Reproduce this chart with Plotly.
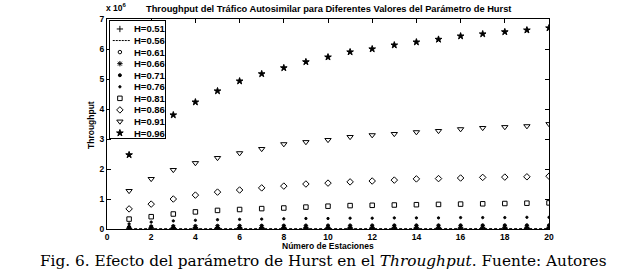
import plotly.graph_objects as go

# ---------------- data (throughput in units of 10^6) ----------------
estaciones = list(range(1, 21))
hurst_labels = ["H=0.51", "H=0.56", "H=0.61", "H=0.66", "H=0.71",
                "H=0.76", "H=0.81", "H=0.86", "H=0.91", "H=0.96"]

h051 = [0.005, 0.006, 0.006, 0.007, 0.007, 0.007, 0.007, 0.008, 0.008, 0.008,
        0.008, 0.008, 0.008, 0.008, 0.008, 0.008, 0.008, 0.008, 0.008, 0.008]
h056 = [0.010, 0.011, 0.011, 0.012, 0.012, 0.012, 0.012, 0.012, 0.012, 0.012,
        0.012, 0.012, 0.012, 0.012, 0.012, 0.012, 0.012, 0.012, 0.012, 0.012]
h061 = [0.018, 0.021, 0.023, 0.024, 0.025, 0.025, 0.026, 0.026, 0.026, 0.027,
        0.027, 0.027, 0.027, 0.027, 0.028, 0.028, 0.028, 0.028, 0.028, 0.028]
h066 = [0.035, 0.042, 0.046, 0.048, 0.050, 0.051, 0.052, 0.053, 0.054, 0.054,
        0.055, 0.055, 0.056, 0.056, 0.056, 0.057, 0.057, 0.057, 0.057, 0.058]
h071 = [0.075, 0.090, 0.098, 0.104, 0.108, 0.111, 0.113, 0.115, 0.117, 0.118,
        0.119, 0.120, 0.121, 0.122, 0.123, 0.123, 0.124, 0.124, 0.125, 0.125]
h076 = [0.17, 0.23, 0.27, 0.29, 0.31, 0.32, 0.33, 0.34, 0.35, 0.35,
        0.36, 0.36, 0.37, 0.37, 0.37, 0.38, 0.38, 0.38, 0.39, 0.39]
h081 = [0.33, 0.41, 0.50, 0.57, 0.62, 0.65, 0.68, 0.70, 0.73, 0.76,
        0.78, 0.79, 0.80, 0.81, 0.82, 0.83, 0.84, 0.85, 0.86, 0.87]
h086 = [0.67, 0.83, 1.00, 1.13, 1.23, 1.30, 1.37, 1.43, 1.50, 1.53,
        1.57, 1.60, 1.63, 1.67, 1.68, 1.70, 1.72, 1.73, 1.74, 1.76]
h091 = [1.27, 1.67, 1.97, 2.20, 2.37, 2.53, 2.67, 2.83, 2.90, 2.97,
        3.07, 3.13, 3.17, 3.23, 3.27, 3.33, 3.37, 3.40, 3.43, 3.50]
h096 = [2.47, 3.20, 3.80, 4.23, 4.60, 4.93, 5.17, 5.37, 5.57, 5.73,
        5.90, 6.00, 6.13, 6.23, 6.32, 6.43, 6.50, 6.57, 6.63, 6.70]

x_ticks = list(range(0, 21, 2))
y_ticks = list(range(0, 8))

series = [h051, h056, h061, h066, h071, h076, h081, h086, h091, h096]
# (symbol, size, mode)
styles = [
    ("cross-thin-open", 4.5, "markers"),
    (None, 0, "lines"),
    ("circle-open", 3.5, "markers"),
    ("asterisk-open", 4.5, "markers"),
    ("circle", 3, "markers"),
    ("circle", 2.3, "markers"),
    ("square-open", 4.5, "markers"),
    ("diamond-open", 5, "markers"),
    ("triangle-down-open", 5.5, "markers"),
    ("star", 5, "markers"),
]

fig = go.Figure()
for vals, name, (sym, size, mode) in zip(series, hurst_labels, styles):
    if mode == "lines":
        fig.add_trace(go.Scatter(x=estaciones, y=vals, mode="lines", name=name,
                                 line=dict(color="black", width=1, dash="3px,2px"),
                                 showlegend=False))
    else:
        fig.add_trace(go.Scatter(x=estaciones, y=vals, mode="markers", name=name,
                                 marker=dict(symbol=sym, size=size, color="black",
                                             line=dict(color="black", width=1)),
                                 showlegend=False))

# ---- compact legend drawn on an auxiliary axis ----
for i, (name, (sym, size, mode)) in enumerate(zip(hurst_labels, styles)):
    if mode == "lines":
        fig.add_trace(go.Scatter(x=[0.05, 0.36], y=[i, i], mode="lines",
                                 line=dict(color="black", width=1, dash="2px,1px"),
                                 xaxis="x2", yaxis="y2", showlegend=False,
                                 hoverinfo="skip"))
    else:
        fig.add_trace(go.Scatter(x=[0.18], y=[i], mode="markers",
                                 marker=dict(symbol=sym, size=size, color="black",
                                             line=dict(color="black", width=1)),
                                 xaxis="x2", yaxis="y2", showlegend=False,
                                 hoverinfo="skip"))
    fig.add_annotation(x=0.40, y=i, xref="x2", yref="y2", text="<b>%s</b>" % name,
                       showarrow=False, xanchor="left", yanchor="middle",
                       font=dict(family="Arial, Liberation Sans", size=9.5, color="black"))

W, H = 644, 279
L, R, T, B = 107, 95, 19, 50
pw, ph = W - L - R, H - T - B

def px_x(p):
    return (p - L) / pw

def px_y(p):
    return (H - B - p) / ph

tick_font = dict(family="Arial, Liberation Sans", size=8.5, color="black")

fig.update_layout(
    width=W, height=H,
    margin=dict(l=L, r=R, t=T, b=B),
    paper_bgcolor="white", plot_bgcolor="white",
    showlegend=False,
    xaxis=dict(range=[0, 20], tickmode="array", tickvals=x_ticks,
               ticktext=["<b>%d</b>" % v for v in x_ticks],
               ticks="inside", ticklen=4, tickcolor="black", tickwidth=1,
               showline=True, linecolor="black", linewidth=1, mirror="ticks",
               showgrid=False, zeroline=False, tickfont=tick_font,
               ticklabelstandoff=0),
    yaxis=dict(range=[0, 7], tickmode="array", tickvals=y_ticks,
               ticktext=["<b>%d</b>" % v for v in y_ticks],
               ticks="inside", ticklen=4, tickcolor="black", tickwidth=1,
               showline=True, linecolor="black", linewidth=1, mirror="ticks",
               showgrid=False, zeroline=False, tickfont=tick_font),
    xaxis2=dict(domain=[px_x(110), px_x(165)], range=[0, 1], anchor="y2",
                showticklabels=False, ticks="", showgrid=False, zeroline=False,
                showline=True, linecolor="black", linewidth=1, mirror=True),
    yaxis2=dict(domain=[px_y(138), px_y(21)], range=[9.43, -0.69], anchor="x2",
                showticklabels=False, ticks="", showgrid=False, zeroline=False,
                showline=True, linecolor="black", linewidth=1, mirror=True),
)

sans = "Arial, Liberation Sans"
# title
fig.add_annotation(text="<b>Throughput del Tráfico Autosimilar para Diferentes Valores del Parámetro de Hurst</b>",
                   xref="paper", yref="paper", x=px_x(328), y=px_y(9),
                   xanchor="center", yanchor="middle", showarrow=False,
                   font=dict(family=sans, size=9.3, color="black"))
# exponent label
fig.add_annotation(text="<b>x 10<sup>6</sup></b>",
                   xref="paper", yref="paper", x=px_x(104), y=px_y(8),
                   xanchor="left", yanchor="middle", showarrow=False,
                   font=dict(family=sans, size=8.5, color="black"))
# axis titles
fig.add_annotation(text="<b>Número de Estaciones</b>",
                   xref="paper", yref="paper", x=px_x(328), y=px_y(246.5),
                   xanchor="center", yanchor="middle", showarrow=False,
                   font=dict(family=sans, size=8.5, color="black"))
fig.add_annotation(text="<b>Throughput</b>", textangle=-90,
                   xref="paper", yref="paper", x=px_x(91), y=px_y(125),
                   xanchor="center", yanchor="middle", showarrow=False,
                   font=dict(family=sans, size=8.5, color="black"))
# caption
fig.add_annotation(text="Fig. 6. Efecto del parámetro de Hurst en el <i>Throughput</i>. Fuente: Autores",
                   xref="paper", yref="paper", x=px_x(323), y=px_y(261),
                   xanchor="center", yanchor="middle", showarrow=False,
                   font=dict(family="DejaVu Serif", size=15.3, color="black"))

fig.write_html("out.html", post_script="document.body.style.margin='0';",
               config={"displayModeBar": False})
